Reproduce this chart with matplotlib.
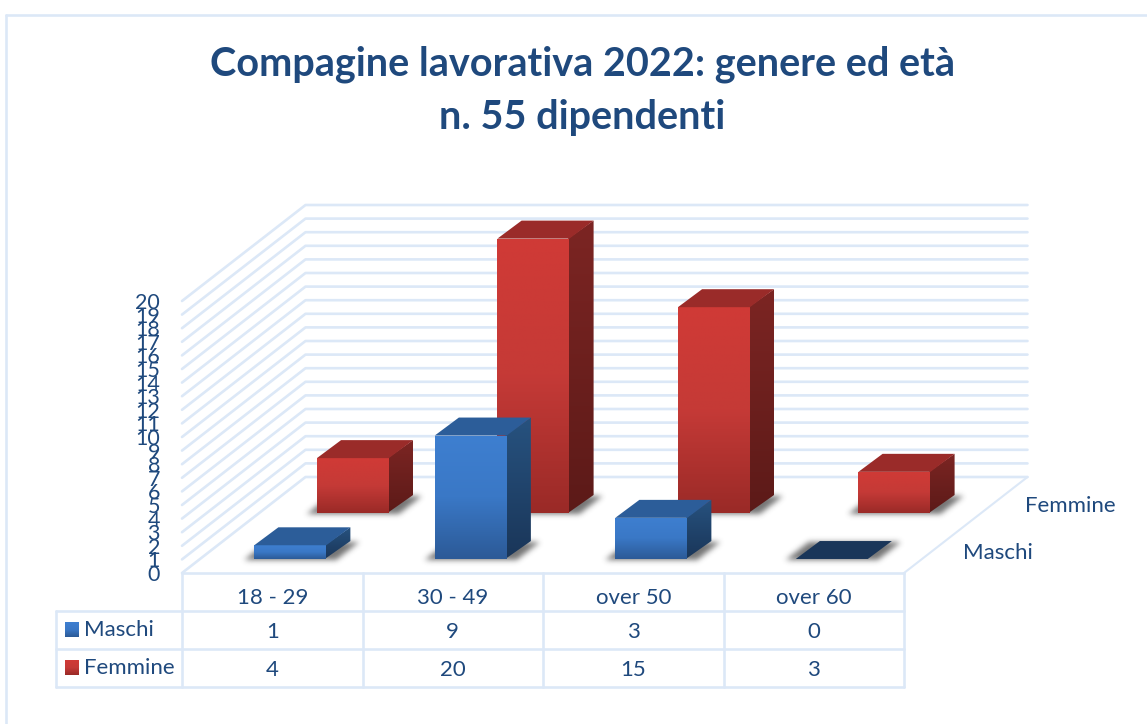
import numpy as np
import matplotlib
matplotlib.use("Agg")
import matplotlib.pyplot as plt
from matplotlib.patches import Polygon
from matplotlib.colors import LinearSegmentedColormap

categories = ["18 - 29", "30 - 49", "over 50", "over 60"]
series_names = ["Maschi", "Femmine"]
maschi = [1, 9, 3, 0]
femmine = [4, 20, 15, 3]
y_ticks = list(range(0, 21))

TEXT = "#1F497D"
GRID = "#DCE8F7"
W, H = 1147, 724
plt.rcParams["font.family"] = ["Lato", "DejaVu Sans"]

fig = plt.figure(figsize=(W / 100, H / 100), dpi=100, facecolor="white")
ax = fig.add_axes([0, 0, 1, 1])
ax.set_xlim(0, W)
ax.set_ylim(H, 0)
ax.axis("off")

# chart geometry in pixels
X0, X1, Y0 = 182.0, 904.0, 573.0
DX, DY = 123.5, 96.0
UNIT = 13.6
BAR_UNIT = 13.72
CAT = (X1 - X0) / len(categories)
BAR_W = 72.0


def proj(x, t, v, unit=UNIT):
    """Map (category-axis px, depth 0..1, value) to the page."""
    return (x + DX * t, Y0 - DY * t - unit * v)


def bar_pt(x, t, v):
    return proj(x, t, v, BAR_UNIT)


def line(xs, ys, z=1, lw=1.9):
    ax.plot(xs, ys, color=GRID, lw=lw, zorder=z, solid_capstyle="round")


# outer chart frame
line([6, W + 5], [15, 15], lw=1.9)
line([6, 6], [15, H + 5], lw=1.9)

# walls and floor
for v in y_ticks:
    a, b, c = proj(X0, 0, v), proj(X0, 1, v), proj(X1, 1, v)
    line([a[0], b[0], c[0]], [a[1], b[1], c[1]])
    ax.text(160, a[1] + 2, str(v), color=TEXT, fontsize=15.5,
            ha="right", va="center", zorder=2)
a, b = proj(X1, 0, 0), proj(X1, 1, 0)
line([a[0], b[0]], [a[1], b[1]], lw=1.5)


def gradient_poly(pts, colors, z):
    cmap = LinearSegmentedColormap.from_list("g", colors)
    pts = np.array(pts)
    im = ax.imshow(np.linspace(0, 1, 128)[:, None], cmap=cmap, aspect="auto",
                   extent=(pts[:, 0].min(), pts[:, 0].max(),
                           pts[:, 1].max(), pts[:, 1].min()),
                   zorder=z, interpolation="bilinear")
    clip = Polygon(pts, closed=True, transform=ax.transData, fc="none", ec="none")
    ax.add_patch(clip)
    im.set_clip_path(clip)
    ax.set_xlim(0, W)
    ax.set_ylim(H, 0)


def blur(a, sigma):
    r = int(3 * sigma)
    k = np.exp(-np.arange(-r, r + 1) ** 2 / (2 * sigma ** 2))
    k /= k.sum()
    a = np.apply_along_axis(lambda m: np.convolve(m, k, mode="same"), 0, a)
    return np.apply_along_axis(lambda m: np.convolve(m, k, mode="same"), 1, a)


def shadow(xa, xb, t0, t1, z):
    xmin = int(xa - 30)
    xmax = int(xb + DX * t1 + 30)
    ymax = int(Y0 - DY * t0 + 14)
    ymin = int(Y0 - DY * t1 - 14)
    yy, xx = np.mgrid[ymin:ymax, xmin:xmax]
    t = (Y0 - yy) / DY
    base = xx - DX * t
    m = ((base > xa - 10) & (base < xb + 10) & (t > t0 - 0.003) & (t < t1)).astype(float)
    m = blur(m, 2.8)
    rgba = np.zeros(m.shape + (4,))
    rgba[..., :3] = 0.25
    rgba[..., 3] = m * 0.72
    ax.imshow(rgba, extent=(xmin, xmax, ymax, ymin), aspect="auto", zorder=z,
              interpolation="bilinear")
    ax.set_xlim(0, W)
    ax.set_ylim(H, 0)


STYLE = {
    "Maschi": dict(front=("#3E7FD0", "#3A78C6", "#2C5A97"), top="#2C5D99",
                   side=("#27527F", "#1A3659"), t=(0.146, 0.333), x=0.0, z=20),
    "Femmine": dict(front=("#D03A36", "#C53A37", "#9A2A27"), top="#9A2B29",
                    side=("#7C2523", "#5C1A18"), t=(0.625, 0.8125), x=3.5, z=10),
}

for name, vals in (("Femmine", femmine), ("Maschi", maschi)):
    s = STYLE[name]
    t0, t1 = s["t"]
    for i, v in enumerate(vals):
        z = s["z"] + i
        xc = X0 + CAT * (i + 0.5) + s["x"]
        xa, xb = xc - BAR_W / 2, xc + BAR_W / 2
        shadow(xa, xb, t0, t1, z)
        if v > 0:
            gradient_poly([bar_pt(xa, t0, v), bar_pt(xb, t0, v), bar_pt(xb, t0, 0), bar_pt(xa, t0, 0)],
                          s["front"], z + 0.3)
            p0, p1 = bar_pt(xb, t0, v), bar_pt(xb, t0, 0)
            gradient_poly([(p0[0] - 1.5, p0[1]), bar_pt(xb + 1, t1, v),
                           bar_pt(xb + 1, t1, 0), (p1[0] - 1.5, p1[1])],
                          s["side"], z + 0.2)
            top_color = s["top"]
        else:
            top_color = s["side"][1]
        ax.add_patch(Polygon([bar_pt(xa, t0, v), bar_pt(xb, t0, v),
                              bar_pt(xb + 1, t1, v), bar_pt(xa + 1, t1, v)],
                             closed=True, fc=top_color, ec="none", zorder=z + 0.4))

# depth-axis labels
ax.text(1025, 506, "Femmine", color=TEXT, fontsize=16, ha="left", va="center", zorder=3)
ax.text(963, 553, "Maschi", color=TEXT, fontsize=16, ha="left", va="center", zorder=3)

# data table
ROW = [573, 611, 649, 687]
LEFT = 56
for k, y in enumerate(ROW):
    line([LEFT if k > 0 else X0, X1], [y, y], z=30)
for i in range(len(categories) + 1):
    x = X0 + CAT * i
    line([x, x], [ROW[0], ROW[-1]], z=30)
line([LEFT, LEFT], [ROW[1], ROW[-1]], z=30)

for i, c in enumerate(categories):
    xc = X0 + CAT * (i + 0.5)
    ax.text(xc, 598, c, color=TEXT, fontsize=16, ha="center", va="center", zorder=31)
    ax.text(xc, 631.5, str(maschi[i]), color=TEXT, fontsize=16, ha="center", va="center", zorder=31)
    ax.text(xc, 669.5, str(femmine[i]), color=TEXT, fontsize=16, ha="center", va="center", zorder=31)

for name, yc in zip(series_names, (629.5, 667.5)):
    cmap = LinearSegmentedColormap.from_list("k", STYLE[name]["front"])
    ax.imshow(np.linspace(0, 1, 32)[:, None], cmap=cmap, aspect="auto",
              extent=(65, 79, yc + 7.5, yc - 7.5), zorder=31)
    ax.text(84, yc + 0.5, name, color=TEXT, fontsize=16, ha="left", va="center", zorder=31)
ax.set_xlim(0, W)
ax.set_ylim(H, 0)

# title
ax.text(582, 64, "Compagine lavorativa 2022: genere ed età", color=TEXT, fontsize=28.5,
        fontweight="bold", ha="center", va="center", zorder=40)
ax.text(582, 117, "n. 55 dipendenti", color=TEXT, fontsize=28.5,
        fontweight="bold", ha="center", va="center", zorder=40)

fig.savefig("out.png", dpi=100, facecolor="white")
